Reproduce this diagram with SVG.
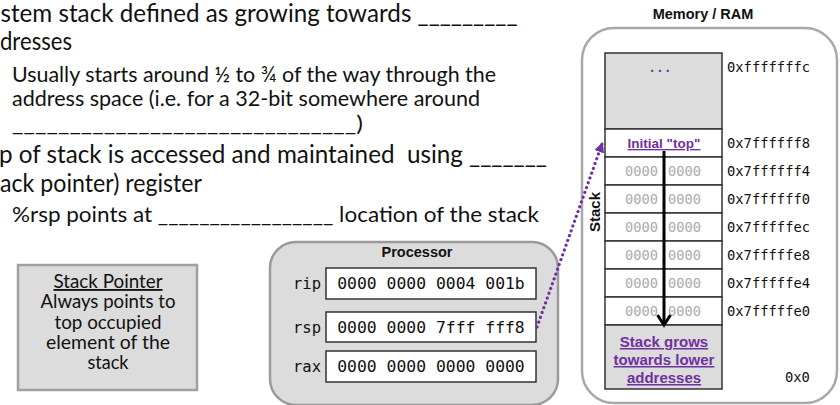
<svg xmlns="http://www.w3.org/2000/svg" width="840" height="405" viewBox="0 0 840 405">
  <defs>
    <style>
      .body { font-family: Lato, "Open Sans", "Liberation Sans", sans-serif; fill: #111; }
      .big { font-size: 24.5px; }
      .sub { font-size: 21px; }
      .note { font-size: 18.5px; text-anchor: middle; }
      .title { font-family: "Liberation Sans", Arial, sans-serif; font-weight: bold; font-size: 14.5px; fill: #111; text-anchor: middle; }
      .purple { font-family: "Liberation Sans", Arial, sans-serif; font-weight: bold; fill: #7030a0; text-anchor: middle; text-decoration: underline; }
      .dots { font-family: "Liberation Sans", Arial, sans-serif; font-weight: bold; fill: #7030a0; text-anchor: middle; font-size: 14px; }
      .mono { font-family: "DejaVu Sans Mono", "Liberation Mono", monospace; }
      .addr { font-size: 13.8px; fill: #111; }
      .cellv { font-size: 13.7px; fill: #aaaaaa; text-anchor: middle; }
      .reg { font-size: 15.5px; fill: #111; text-anchor: end; }
      .regv { font-size: 16.4px; fill: #111; text-anchor: middle; }
      .cell { fill: #ffffff; stroke: #333; stroke-width: 1.5; }
      .shade { fill: #dcdcdc; stroke: #333; stroke-width: 1.5; }
      .regbox { fill: #ffffff; stroke: #333; stroke-width: 1.5; }
    </style>
    <marker id="dotHead" viewBox="0 0 10 10" refX="8" refY="5" markerWidth="3.2" markerHeight="3.2" orient="auto">
      <path d="M0,0 L10,5 L0,10 z" fill="#7030a0"/>
    </marker>
  </defs>

  <rect width="840" height="405" fill="#ffffff"/>

  <!-- bullet text -->
  <g id="bullets" class="body">
    <text class="big" x="0.5" y="22" textLength="517" lengthAdjust="spacingAndGlyphs">stem stack defined as growing towards _________</text>
    <text class="big" x="0" y="50" textLength="72" lengthAdjust="spacingAndGlyphs">dresses</text>
    <text class="sub" x="12" y="82" textLength="484" lengthAdjust="spacingAndGlyphs">Usually starts around ½ to ¾ of the way through the</text>
    <text class="sub" x="12" y="106" textLength="468" lengthAdjust="spacingAndGlyphs">address space (i.e. for a 32-bit somewhere around</text>
    <text class="sub" x="12" y="131" textLength="351" lengthAdjust="spacingAndGlyphs">______________________________)</text>
    <text class="big" x="-1" y="163" textLength="548" lengthAdjust="spacingAndGlyphs" xml:space="preserve">p of stack is accessed and maintained  using _______</text>
    <text class="big" x="0" y="192" textLength="202" lengthAdjust="spacingAndGlyphs">ack pointer) register</text>
    <text class="sub" x="12" y="222" textLength="527" lengthAdjust="spacingAndGlyphs">%rsp points at _________________ location of the stack</text>
  </g>

  <!-- stack pointer note -->
  <g id="stack-pointer-note">
    <rect x="18" y="265" width="179" height="125" fill="#dcdcdc" stroke="#a0a0a0" stroke-width="2.5"/>
    <g class="body note">
      <text x="108" y="288" text-decoration="underline" textLength="109" lengthAdjust="spacingAndGlyphs">Stack Pointer</text>
      <text x="108" y="308" textLength="135" lengthAdjust="spacingAndGlyphs">Always points to</text>
      <text x="108" y="329" textLength="107" lengthAdjust="spacingAndGlyphs">top occupied</text>
      <text x="108" y="349" textLength="124" lengthAdjust="spacingAndGlyphs">element of the</text>
      <text x="108" y="369" textLength="41" lengthAdjust="spacingAndGlyphs">stack</text>
    </g>
  </g>

  <!-- processor with registers -->
  <g id="processor">
    <rect x="270" y="242" width="288" height="163" rx="26" fill="#dcdcdc" stroke="#9a9a9a" stroke-width="2.5"/>
    <text class="title" x="417" y="257">Processor</text>
    <g id="reg-rip">
      <text class="mono reg" x="321" y="289">rip</text>
      <rect class="regbox" x="326" y="268" width="210" height="31"/>
      <text class="mono regv" x="431" y="289">0000 0000 0004 001b</text>
    </g>
    <g id="reg-rsp">
      <text class="mono reg" x="321" y="333">rsp</text>
      <rect class="regbox" x="326" y="312" width="210" height="30"/>
      <text class="mono regv" x="431" y="333">0000 0000 7fff fff8</text>
    </g>
    <g id="reg-rax">
      <text class="mono reg" x="321" y="372">rax</text>
      <rect class="regbox" x="326" y="351" width="210" height="31"/>
      <text class="mono regv" x="431" y="372">0000 0000 0000 0000</text>
    </g>
  </g>

  <!-- memory -->
  <g id="memory">
    <text class="title" x="703" y="19">Memory / RAM</text>
    <rect x="582" y="28" width="255" height="375" rx="32" fill="#ffffff" stroke="#a8a8a8" stroke-width="2.5"/>

    <rect class="shade" x="605" y="53" width="117" height="76"/>
    <text class="dots" x="660" y="72">. . .</text>

    <rect class="cell" x="605" y="129" width="117" height="28"/>
    <text class="purple" x="664" y="148" font-size="13.5">Initial "top"</text>

    <g id="stack-cells">
      <rect class="cell" x="605" y="157" width="117" height="28"/>
      <rect class="cell" x="605" y="185" width="117" height="28"/>
      <rect class="cell" x="605" y="213" width="117" height="28"/>
      <rect class="cell" x="605" y="241" width="117" height="28"/>
      <rect class="cell" x="605" y="269" width="117" height="28"/>
      <rect class="cell" x="605" y="297" width="117" height="28"/>
      <g class="mono cellv">
        <text x="641.5" y="176">0000</text><text x="684.5" y="176">0000</text>
        <text x="641.5" y="204">0000</text><text x="684.5" y="204">0000</text>
        <text x="641.5" y="232">0000</text><text x="684.5" y="232">0000</text>
        <text x="641.5" y="260">0000</text><text x="684.5" y="260">0000</text>
        <text x="641.5" y="288">0000</text><text x="684.5" y="288">0000</text>
        <text x="641.5" y="316">0000</text><text x="684.5" y="316">0000</text>
      </g>
    </g>

    <rect class="shade" x="605" y="325" width="117" height="64"/>
    <g class="purple" font-size="15">
      <text x="664" y="347">Stack grows</text>
      <text x="664" y="365">towards lower</text>
      <text x="664" y="383">addresses</text>
    </g>

    <text x="600" y="212" transform="rotate(-90 600 212)" font-family="'Liberation Sans', Arial, sans-serif" font-weight="bold" font-size="15" fill="#111" text-anchor="middle">Stack</text>

    <g class="mono addr">
      <text x="727" y="72">0xfffffffc</text>
      <text x="727" y="148">0x7ffffff8</text>
      <text x="727" y="176">0x7ffffff4</text>
      <text x="727" y="204">0x7ffffff0</text>
      <text x="727" y="232">0x7fffffec</text>
      <text x="727" y="260">0x7fffffe8</text>
      <text x="727" y="288">0x7fffffe4</text>
      <text x="727" y="316">0x7fffffe0</text>
      <text x="785" y="382">0x0</text>
    </g>
  </g>

  <!-- connectors -->
  <g id="connectors">
    <!-- growth direction -->
    <line x1="664" y1="151" x2="664" y2="324" stroke="#000" stroke-width="3"/>
    <polyline points="657.5,315 664,325 670.5,315" fill="none" stroke="#000" stroke-width="3"/>
    <!-- rsp points into the stack -->
    <line x1="537" y1="327" x2="602" y2="144" stroke="#7030a0" stroke-width="3.2" stroke-dasharray="0.1 5" stroke-linecap="round" marker-end="url(#dotHead)"/>
  </g>
</svg>
